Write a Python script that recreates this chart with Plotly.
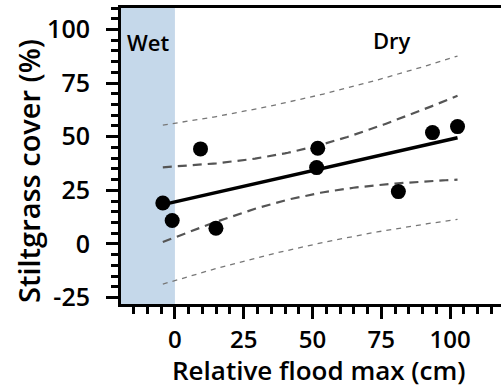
import numpy as np
import plotly.graph_objects as go

# Observed plots: relative flood maximum (cm) vs. stiltgrass cover (%)
flood_max = [-4.4, -1.0, 9.3, 14.9, 51.9, 51.5, 81.2, 93.6, 102.7]
stilt_cover = [19.1, 10.9, 44.3, 7.3, 44.6, 35.6, 24.4, 51.9, 54.7]

x_ticks = [0, 25, 50, 75, 100]
y_ticks = [-25, 0, 25, 50, 75, 100]
y_tick_text = ["-25", "0", "25", "50", "75", "100"]

# Least-squares fit with 95% confidence and prediction bands
x = np.array(flood_max)
y = np.array(stilt_cover)
n = len(x)
slope, intercept = np.polyfit(x, y, 1)
resid = y - (intercept + slope * x)
s = np.sqrt(np.sum(resid ** 2) / (n - 2))
t_crit = 2.365  # two-sided 95%, df = 7
sxx = np.sum((x - x.mean()) ** 2)
xf = np.linspace(x.min(), x.max(), 100)
yf = intercept + slope * xf
se_mean = s * np.sqrt(1 / n + (xf - x.mean()) ** 2 / sxx)
se_pred = s * np.sqrt(1 + 1 / n + (xf - x.mean()) ** 2 / sxx)

FONT = "Open Sans"

fig = go.Figure()

# wet zone shading (flood max below zero)
fig.add_shape(type="rect", xref="x", yref="paper", x0=-19.6, x1=0, y0=0, y1=1,
              fillcolor="#c5d8ea", line_width=0, layer="below")

band_ci = dict(color="#555555", width=2.2, dash="9px,6px")
band_pi = dict(color="#777777", width=1.3, dash="5px,5px")
for yy, ln in [(yf + t_crit * se_pred, band_pi), (yf - t_crit * se_pred, band_pi),
               (yf + t_crit * se_mean, band_ci), (yf - t_crit * se_mean, band_ci)]:
    fig.add_trace(go.Scatter(x=xf, y=yy, mode="lines", line=ln, hoverinfo="skip"))

fig.add_trace(go.Scatter(x=xf, y=yf, mode="lines",
                         line=dict(color="black", width=3.5)))
fig.add_trace(go.Scatter(x=flood_max, y=stilt_cover, mode="markers",
                         marker=dict(color="black", size=15)))

lab_font = dict(family=FONT, size=22, color="black", weight=600)
fig.add_annotation(x=-9.7, y=94, text="Wet", showarrow=False, font=lab_font)
fig.add_annotation(x=79, y=95, text="Dry", showarrow=False, font=lab_font)

# axis titles placed as paper-anchored text
title_font_x = dict(family=FONT, size=26, color="black", weight=600)
title_font_y = dict(family=FONT, size=29, color="black", weight=600)
fig.add_annotation(xref="paper", yref="paper", x=0.521, y=-0.2213,
                   text="Relative flood max (cm)", showarrow=False,
                   xanchor="center", yanchor="middle", font=title_font_x)
fig.add_annotation(xref="paper", yref="paper", x=-0.245, y=0.449,
                   text="Stiltgrass cover (%)", showarrow=False, textangle=-90,
                   xanchor="center", yanchor="middle", font=title_font_y)

axis_common = dict(showline=True, linecolor="black", linewidth=3,
                   ticks="outside", ticklen=12, tickwidth=3, tickcolor="black",
                   showgrid=False, zeroline=False)
minor_ticks = dict(dtick=5, tick0=0, ticks="outside", ticklen=7,
                   tickwidth=3, tickcolor="black")

fig.update_xaxes(range=[-19.6, 118.5], tickvals=x_ticks, mirror=True,
                 minor=minor_ticks, ticklabelstandoff=0,
                 tickfont=dict(family=FONT, size=24, color="black", weight=600),
                 **axis_common)
fig.update_yaxes(range=[-28, 110], tickvals=y_ticks, ticktext=y_tick_text,
                 minor=minor_ticks, ticklabelstandoff=11,
                 tickfont=dict(family=FONT, size=25, color="black", weight=600),
                 **axis_common)

fig.update_layout(width=501, height=387, showlegend=False,
                  margin=dict(l=121, r=0, t=8, b=83),
                  plot_bgcolor="white", paper_bgcolor="white",
                  font=dict(family=FONT, color="black"))

fig.write_html("out.html")
